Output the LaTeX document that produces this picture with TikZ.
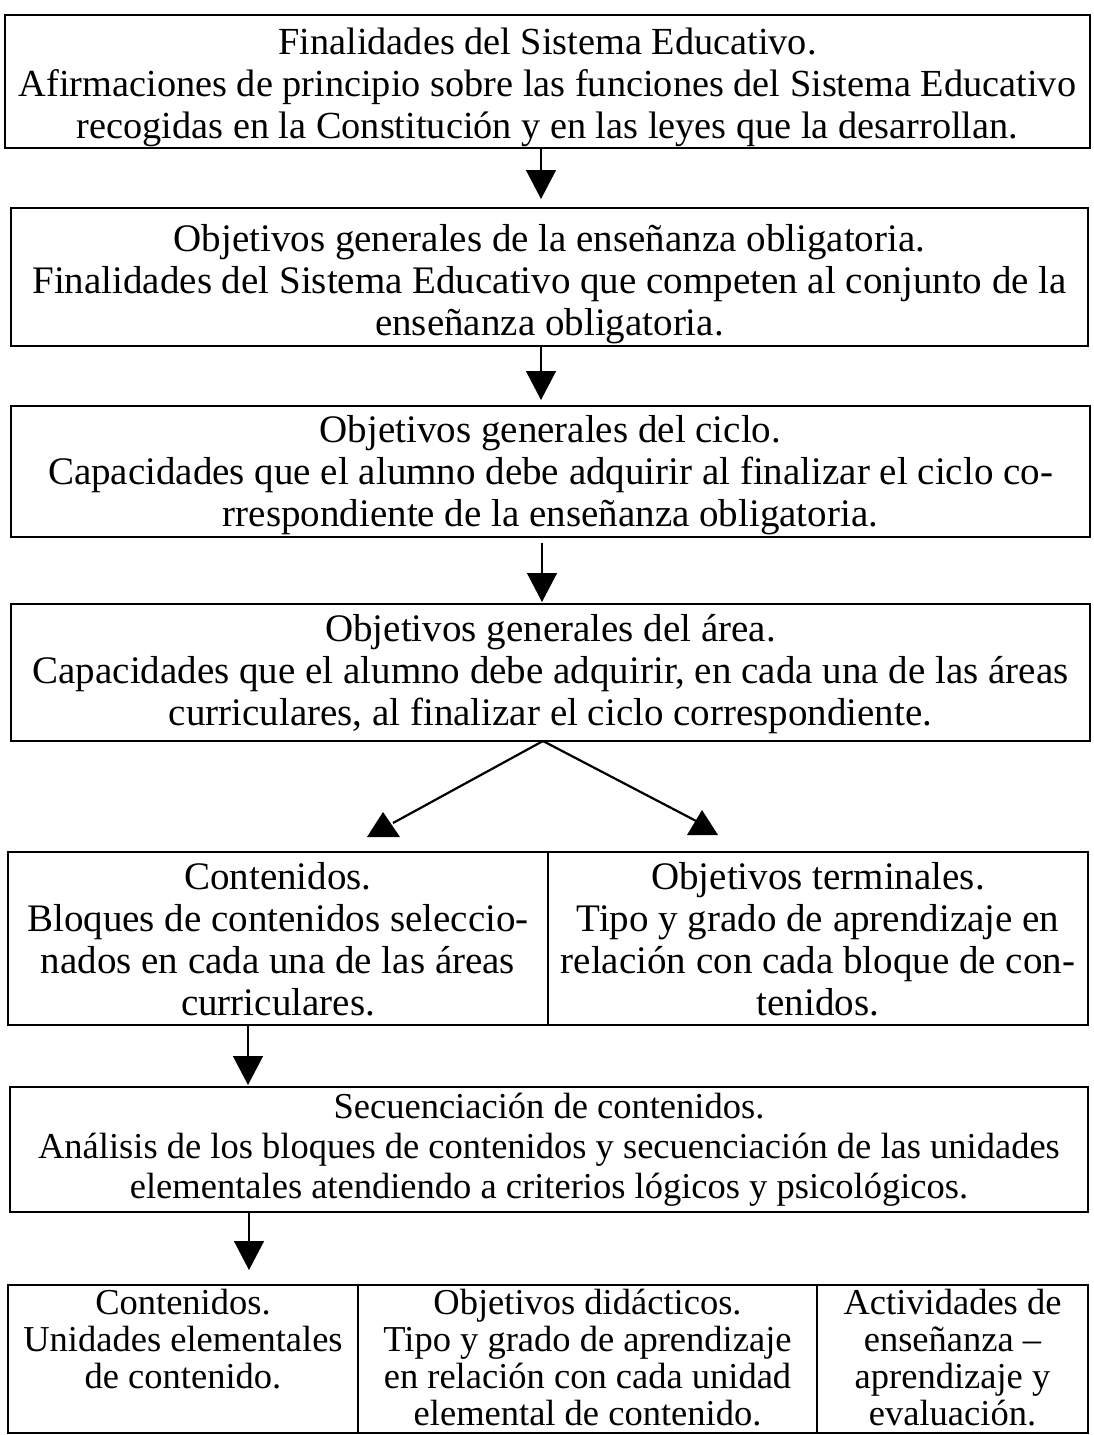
\documentclass[tikz,border=0pt]{standalone}
\usepackage{fontspec}
\setmainfont{Liberation Serif}
\usetikzlibrary{arrows.meta}

\tikzset{
  caja/.style={draw, line width=1.4pt, inner sep=0pt, outer sep=0pt, anchor=north west},
  flecha/.style={line width=1.3pt, -{Triangle[width=30pt,length=29pt]}},
  rama/.style={line width=2.2pt},
}
% ancho, alto, margen superior, texto
\newcommand{\texto}[4]{\parbox[c][#2][t]{#1}{\centering\vspace*{#3}\strut#4}}

\begin{document}
\begin{tikzpicture}[x=1pt,y=-1pt,font=\fontsize{39}{42}\selectfont]
  \useasboundingbox (0,0) rectangle (1093,1435);

  % cajas principales
  \node[caja, font=\fontsize{38.3}{42}\selectfont] (fin) at (5,15)
    {\texto{1085pt}{133pt}{10pt}{Finalidades del Sistema Educativo.\\
    Afirmaciones de principio sobre las funciones del Sistema Educativo\\
    recogidas en la Constitución y en las leyes que la desarrollan.}};
  \node[caja] (obj) at (11,208) {\texto{1077pt}{138pt}{14pt}{Objetivos generales de la enseñanza obligatoria.\\
    Finalidades del Sistema Educativo que competen al conjunto de la\\
    enseñanza obligatoria.}};
  \node[caja] (ciclo) at (11,406) {\texto{1079pt}{131pt}{7pt}{Objetivos generales del ciclo.\\
    Capacidades que el alumno debe adquirir al finalizar el ciclo co-\\
    rrespondiente de la enseñanza obligatoria.}};
  \node[caja] (area) at (11,604) {\texto{1079pt}{137pt}{8pt}{Objetivos generales del área.\\
    Capacidades que el alumno debe adquirir, en cada una de las áreas\\
    curriculares, al finalizar el ciclo correspondiente.}};

  % contenidos y objetivos terminales
  \node[caja] (cont) at (8,852) {\texto{540pt}{173pt}{8pt}{Contenidos.\\
    Bloques de contenidos seleccio-\\
    nados en cada una de las áreas\\
    curriculares.}};
  \node[caja] (term) at (cont.north east) {\texto{540pt}{173pt}{8pt}{Objetivos terminales.\\
    Tipo y grado de aprendizaje en\\
    relación con cada bloque de con-\\
    tenidos.}};

  \node[caja, font=\fontsize{36.5}{40}\selectfont] (sec) at (10,1087)
    {\texto{1078pt}{125pt}{3pt}{Secuenciación de contenidos.\\
    Análisis de los bloques de contenidos y secuenciación de las unidades\\
    elementales atendiendo a criterios lógicos y psicológicos.}};

  % fila final
  \begin{scope}[font=\fontsize{36.5}{37}\selectfont]
  \node[caja] (unid) at (8,1285) {\texto{350pt}{148pt}{4pt}{Contenidos.\\
    Unidades elementales\\
    de contenido.}};
  \node[caja] (did) at (unid.north east) {\texto{459pt}{148pt}{4pt}{Objetivos didácticos.\\
    Tipo y grado de aprendizaje\\
    en relación con cada unidad\\
    elemental de contenido.}};
  \node[caja] (act) at (did.north east) {\texto{271pt}{148pt}{4pt}{Actividades de\\
    enseñanza –\\
    aprendizaje y\\
    evaluación.}};
  \end{scope}

  % flechas
  \coordinate (p1) at (541,199);
  \coordinate (p2) at (541,400);
  \coordinate (p3) at (542,602);
  \coordinate (p5) at (248,1085);
  \coordinate (p6) at (249,1270);
  \draw[flecha] (fin.south -| p1) -- (p1);
  \draw[flecha] (obj.south -| p2) -- (p2);
  \draw[flecha] ([yshift=-6pt]ciclo.south -| p3) -- (p3);
  \draw[flecha] (cont.south -| p5) -- (p5);
  \draw[flecha] (sec.south -| p6) -- (p6);

  % ramas hacia contenidos y objetivos terminales
  \coordinate (cima) at (543,741);
  \coordinate (izq) at (393,823);
  \coordinate (der) at (700,823);
  \draw[rama] (cima) -- (izq);
  \draw[rama] (cima) -- (der);
  \fill (383,812) -- (400,837) -- (367,837) -- cycle;
  \fill (702,810) -- (718,835) -- (687,835) -- cycle;
\end{tikzpicture}
\end{document}
